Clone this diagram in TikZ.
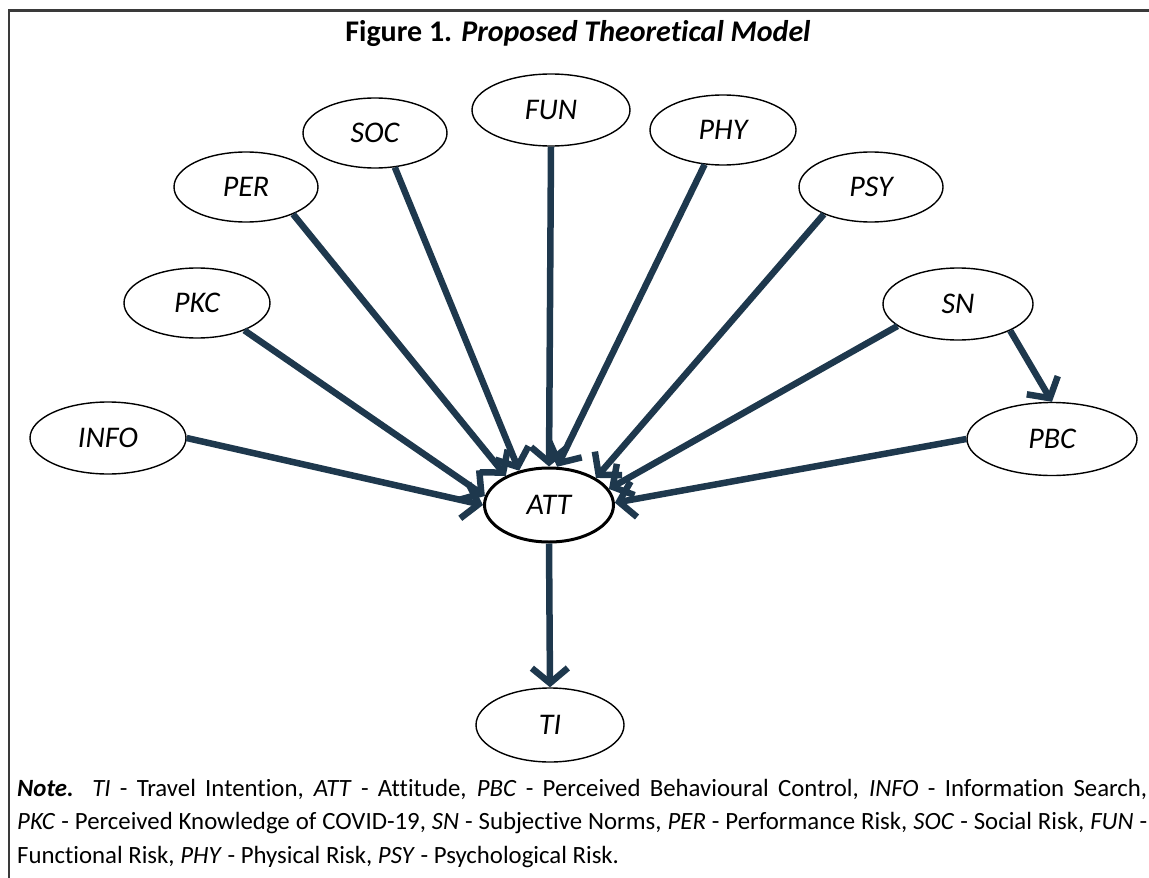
\documentclass[tikz,border=0pt]{standalone}
\usepackage{fontspec}
\setmainfont{Carlito}[Ligatures=NoCommon]
\usetikzlibrary{arrows.meta}
\usetikzlibrary{shapes.geometric}
\definecolor{linknavy}{HTML}{1E384D}
\definecolor{framegray}{HTML}{3A3A3A}

\begin{document}
\begin{tikzpicture}[
    x=1pt, y=-1pt,
    construct/.style={draw, ellipse, line width=1.4pt, minimum width=146pt, minimum height=70pt, inner sep=0pt, font=\fontsize{30}{34}\selectfont\itshape},
    central/.style={construct, line width=3pt, minimum width=129pt, minimum height=74pt},
    link/.style={-{Straight Barb[length=15pt, width=36pt]}, line width=6.5pt, linknavy}
]
    \useasboundingbox (0,0) rectangle (1149,878);

    % Frame
    \draw[framegray, line width=3pt] (8,10) -- (1149,10);
    \draw[framegray, line width=2.5pt] (9,10) -- (9,878);

    % Title
    \node[anchor=base, font=\fontsize{30}{35}\selectfont\bfseries] (title) at (578,41) {Figure 1. \textit{Proposed Theoretical Model}};

    % Constructs
    \node[construct, minimum width=156pt, minimum height=72pt] (INFO) at (108,438) {INFO};
    \node[construct] (PKC) at (197,303) {PKC};
    \node[construct, minimum width=144pt] (PER) at (246,187) {PER};
    \node[construct, minimum width=144pt] (SOC) at (375,133) {SOC};
    \node[construct, minimum width=158pt, minimum height=72pt] (FUN) at (551,110) {FUN};
    \node[construct] (PHY) at (723,130) {PHY};
    \node[construct, minimum width=144pt] (PSY) at (871,187) {PSY};
    \node[construct, minimum width=150pt, minimum height=72pt] (SN) at (958,304) {SN};
    \node[construct, minimum width=170pt, minimum height=73pt] (PBC) at (1052,439) {PBC};
    \node[central] (ATT) at (549,505) {ATT};
    \node[construct, minimum width=148pt, minimum height=74pt] (TI) at (550,725) {TI};

    % Paths into ATT
    \draw[link] (INFO.0) -- (ATT.180);
    \draw[link] (PKC.-30) -- (ATT.172);
    \draw[link] (PER.-30) -- (ATT.146);
    \draw[link] (SOC.-60) -- (ATT.131);
    \draw[link] (FUN.-90) -- (ATT.90);
    \draw[link] (PHY.-118) -- (ATT.78);
    \draw[link] (PSY.-150) -- (ATT.30);
    \draw[link] (SN.-160) -- (ATT.15);
    \draw[link] (PBC.180) -- (ATT.2);

    % Other paths
    \draw[link] (SN.-27) -- (PBC.90);
    \draw[link] (ATT.-90) -- (TI.90);

    % Note
    \node[anchor=north west, inner sep=0pt, text width=1130pt, align=justify, font=\fontsize{24.8}{33.5}\selectfont] (note) at (17,779) {\textbf{\textit{Note.}} \textit{TI} - Travel Intention, \textit{ATT} - Attitude, \textit{PBC} - Perceived Behavioural Control, \textit{INFO} - Information Search,\linebreak \textit{PKC} - Perceived Knowledge of COVID-19, \textit{SN} - Subjective Norms, \textit{PER} - Performance Risk, \textit{SOC} - Social Risk, \textit{FUN} -\linebreak Functional Risk, \textit{PHY} - Physical Risk, \textit{PSY} - Psychological Risk.};
\end{tikzpicture}
\end{document}
